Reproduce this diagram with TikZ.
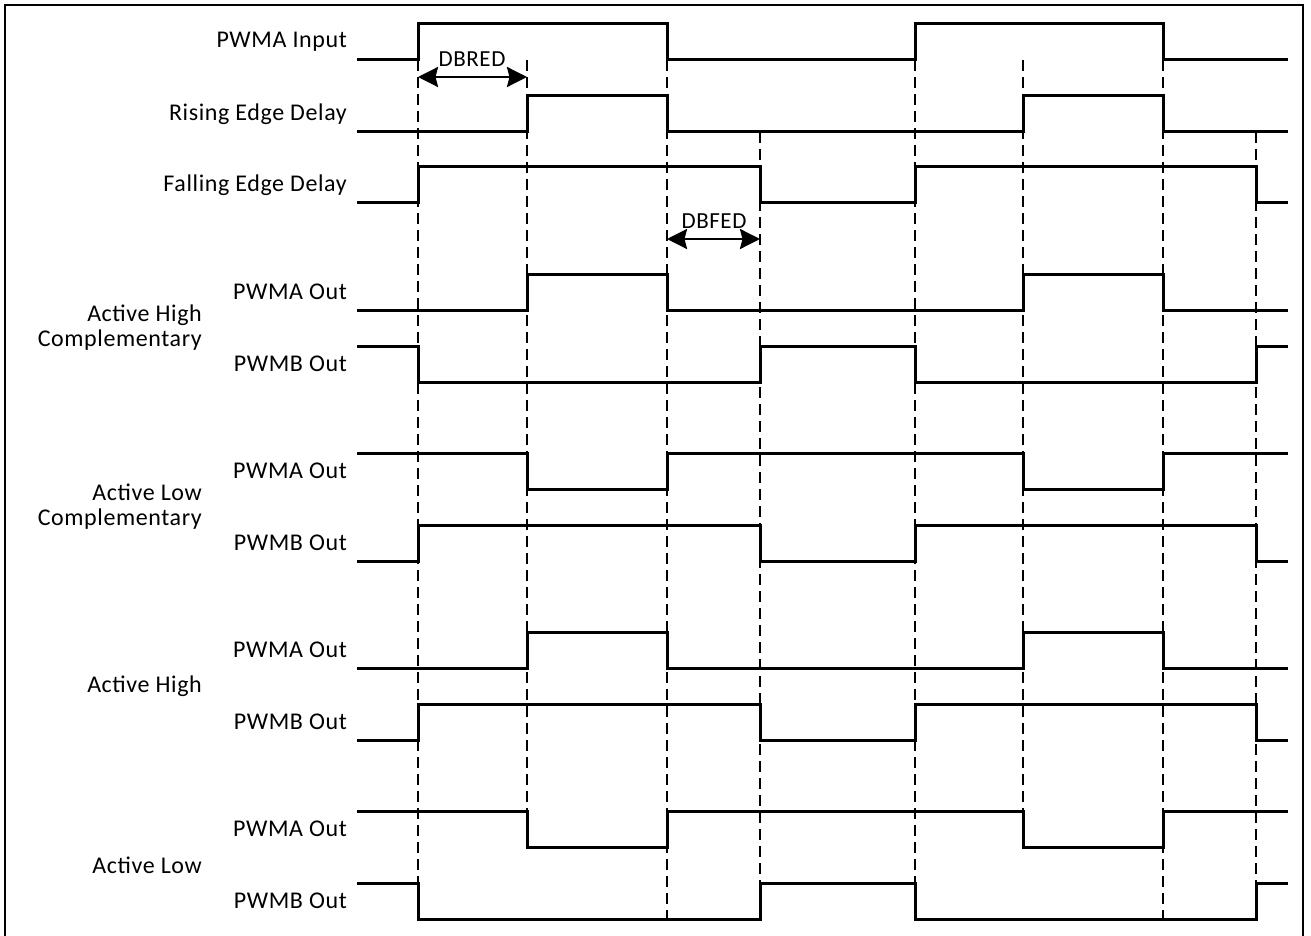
\documentclass[tikz,border=0pt]{standalone}
\usepackage{fontspec}
\setmainfont[LetterSpace=2.5]{Carlito}
\usetikzlibrary{arrows.meta}
\newcommand\wRED[2]{\draw[sig] (357,#2) -| (527,#1) -| (667,#2) -| (1023,#1) -| (1163,#2) -- (1288,#2);}
\newcommand\wiRED[2]{\draw[sig] (357,#1) -| (527,#2) -| (667,#1) -| (1023,#2) -| (1163,#1) -- (1288,#1);}
\newcommand\wFED[2]{\draw[sig] (357,#2) -| (418,#1) -| (760,#2) -| (915,#1) -| (1256,#2) -- (1288,#2);}
\newcommand\wiFED[2]{\draw[sig] (357,#1) -| (418,#2) -| (760,#1) -| (915,#2) -| (1256,#1) -- (1288,#1);}
\begin{document}
\begin{tikzpicture}[x=1pt,y=-1pt,
  sig/.style={line width=3pt, line join=miter},
  guide/.style={line width=1.8pt, dash pattern=on 11pt off 6pt},
  lbl/.style={anchor=east, inner sep=0pt, font=\fontsize{24}{26}\selectfont},
  grp/.style={anchor=east, inner sep=0pt, align=right, font=\fontsize{24}{25}\selectfont},
  dimlbl/.style={inner sep=0pt, font=\fontsize{23}{24}\selectfont},
  dimarrow/.style={line width=2.6pt, {Stealth[length=20pt,width=20pt,inset=2.5pt]}-{Stealth[length=20pt,width=20pt,inset=2.5pt]}}
]
\clip (0,0) rectangle (1311,936);
\fill[white] (0,0) rectangle (1311,936);
\draw[line width=2.8pt] (5,950) -- (5,5) -- (1303,5) -- (1303,950);

% guide lines
\foreach \gx/\ga/\gb in {418/60/919, 527/60/847, 667/60/919, 760/132/919, 915/60/919, 1023/60/847, 1163/60/919, 1256/132/919}
  \draw[guide] (\gx,\ga) -- (\gx,\gb);

% signal labels
\node[lbl] (lin)  at (347,42)  {PWMA Input};
\node[lbl] (lred) at (347,114) {Rising Edge Delay};
\node[lbl] (lfed) at (347,185) {Falling Edge Delay};
\node[lbl] (la1)  at (347,292) {PWMA Out};
\node[lbl] (lb1)  at (347,364) {PWMB Out};
\node[lbl] (la2)  at (347,471) {PWMA Out};
\node[lbl] (lb2)  at (347,543) {PWMB Out};
\node[lbl] (la3)  at (347,650) {PWMA Out};
\node[lbl] (lb3)  at (347,722) {PWMB Out};
\node[lbl] (la4)  at (347,829) {PWMA Out};
\node[lbl] (lb4)  at (347,901) {PWMB Out};

% group labels
\node[grp] (g1) at (202,328) {Active High\\Complementary};
\node[grp] (g2) at (202,507) {Active Low\\Complementary};
\node[grp] (g3) at (202,686) {Active High};
\node[grp] (g4) at (202,865) {Active Low};

% waveforms
\draw[sig] (357,60) -| (418,24) -| (667,60) -| (915,24) -| (1163,60) -- (1288,60);
\wRED{96}{132}
\wFED{167}{203}
\wRED{274}{310}
\wiFED{346}{382}
\wiRED{453}{489}
\wFED{525}{561}
\wRED{632}{668}
\wFED{704}{740}
\wiRED{811}{847}
\wiFED{883}{919}

% dead-band arrows
\coordinate (r1) at (418,77);
\coordinate (r2) at (527,77);
\draw[dimarrow] (r1) -- (r2);
\node[dimlbl] (dbred) at (472,59) {DBRED};
\coordinate (f1) at (667,239);
\coordinate (f2) at (760,239);
\draw[dimarrow] (f1) -- (f2);
\node[dimlbl] (dbfed) at (714,221) {DBFED};
\end{tikzpicture}
\end{document}
